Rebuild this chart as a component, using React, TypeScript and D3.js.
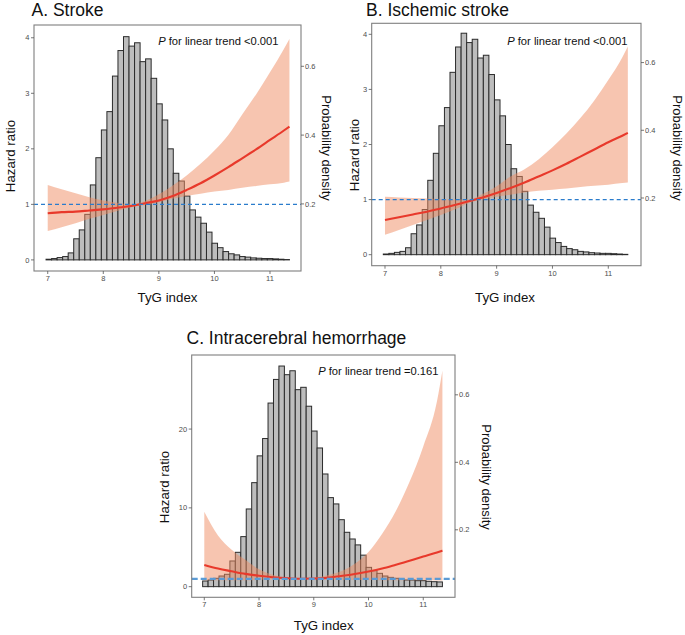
import * as d3 from 'd3';

const W = 685;
const H = 635;
const FONT = '"Liberation Sans", Arial, Helvetica, sans-serif';

// histogram of TyG index, bar heights read in hazard-ratio units of each panel
const BIN_RANGE = [6.97, 11.35];
const histAB = [
  0.012, 0.024, 0.042, 0.06, 0.126, 0.38, 0.54, 0.82, 1.35, 1.84, 2.34, 2.67, 3.31, 3.77, 4.02,
  3.85, 3.91, 3.57, 3.62, 3.27, 2.81, 2.52, 2.0, 1.56, 1.42, 1.15, 0.9, 0.77, 0.66, 0.5, 0.3,
  0.22, 0.15, 0.11, 0.09, 0.06, 0.05, 0.036, 0.03, 0.024, 0.024, 0.018, 0.012, 0.006,
];
const histC = [
  0.72, 0.85, 1.06, 1.35, 1.57, 3.26, 4.36, 6.35, 9.86, 13.2, 16.6, 18.8, 23.3, 26.3, 28.0,
  26.9, 27.4, 25.0, 25.3, 22.9, 19.75, 17.6, 14.3, 11.3, 10.5, 8.5, 6.9, 6.05, 5.3, 4.0, 2.45,
  2.03, 1.69, 1.35, 1.18, 1.06, 0.97, 0.85, 0.85, 0.76, 0.76, 0.68, 0.63, 0.6,
];

// restricted cubic spline: TyG knots, HR and 95% CI
const tygKnots = [7.0, 7.25, 7.5, 7.75, 8.0, 8.25, 8.5, 8.75, 9.0, 9.25, 9.5, 9.75, 10.0, 10.25, 10.5, 10.75, 11.0, 11.25, 11.35];

const hrA = [0.84, 0.86, 0.87, 0.89, 0.91, 0.94, 0.97, 1.02, 1.07, 1.15, 1.26, 1.38, 1.52, 1.67, 1.83, 1.99, 2.16, 2.33, 2.4];
const hiA = [1.35, 1.27, 1.2, 1.13, 1.07, 1.03, 1.0, 1.06, 1.18, 1.34, 1.52, 1.73, 1.97, 2.25, 2.62, 2.98, 3.38, 3.8, 3.98];
const loA = [0.52, 0.59, 0.66, 0.74, 0.81, 0.88, 0.95, 0.99, 1.04, 1.1, 1.15, 1.19, 1.23, 1.26, 1.3, 1.33, 1.36, 1.39, 1.41];

const hrB = [0.63, 0.68, 0.73, 0.78, 0.84, 0.9, 0.97, 1.04, 1.12, 1.21, 1.31, 1.42, 1.53, 1.65, 1.78, 1.91, 2.04, 2.16, 2.21];
const hiB = [1.05, 1.04, 1.03, 1.02, 1.01, 1.0, 1.0, 1.1, 1.24, 1.42, 1.55, 1.73, 1.95, 2.2, 2.48, 2.8, 3.17, 3.58, 3.78];
const loB = [0.36, 0.45, 0.54, 0.63, 0.72, 0.82, 0.94, 1.0, 1.05, 1.09, 1.13, 1.16, 1.18, 1.2, 1.23, 1.25, 1.27, 1.3, 1.31];

const hrC = [2.75, 2.3, 1.95, 1.62, 1.38, 1.2, 1.08, 1.01, 1.03, 1.12, 1.36, 1.61, 1.92, 2.3, 2.78, 3.28, 3.82, 4.35, 4.58];
const hiC = [9.5, 6.5, 4.7, 3.4, 2.2, 1.5, 1.15, 1.03, 1.12, 1.45, 1.95, 2.9, 4.4, 6.7, 9.6, 13.3, 17.8, 23.5, 27.4];
const loC = [0.8, 0.81, 0.81, 0.82, 0.86, 0.93, 0.98, 0.99, 0.96, 0.92, 0.89, 0.86, 0.84, 0.82, 0.81, 0.8, 0.8, 0.79, 0.78];

const xTicks = [7, 8, 9, 10, 11];
const densityTicks = [0.2, 0.4, 0.6];
const hrTicksAB = [0, 1, 2, 3, 4];
const hrTicksC = [0, 10, 20];

const titles = ['A. Stroke', 'B. Ischemic stroke', 'C. Intracerebral hemorrhage'];
const trendText = ['<0.001', '<0.001', '=0.161'];

const PANELS = [
  {
    title: titles[0], trend: trendText[0], hist: histAB, hr: hrA, hi: hiA, lo: loA, hrTicks: hrTicksAB,
    box: { left: 34, top: 25, right: 301, bottom: 271 },
    xDomain: [6.753, 11.558], hrDomain: [-0.2, 4.23], dDomain: [0.005, 0.72],
    titlePos: [31.5, 16], trendPos: [278.5, 44.5],
    hrLabel: [10, 156], dLabel: [326.5, 148], xLabel: [167.5, 301.5],
    dash: { color: '#2a7ccc', width: 1.3, pattern: '4 3' },
  },
  {
    title: titles[1], trend: trendText[1], hist: histAB, hr: hrB, hi: hiB, lo: loB, hrTicks: hrTicksAB,
    box: { left: 371.7, top: 23.3, right: 641, bottom: 265.7 },
    xDomain: [6.762, 11.586], hrDomain: [-0.2, 4.2], dDomain: [0, 0.716],
    titlePos: [366, 16], trendPos: [627.5, 44.5],
    hrLabel: [354, 155], dLabel: [677.5, 148], xLabel: [505, 301.5],
    dash: { color: '#2a7ccc', width: 1.3, pattern: '4 3' },
  },
  {
    title: titles[2], trend: trendText[2], hist: histC, hr: hrC, hi: hiC, lo: loC, hrTicks: hrTicksC,
    box: { left: 191.7, top: 355, right: 455, bottom: 597.3 },
    xDomain: [6.77, 11.58], hrDomain: [-1.35, 29.4], dDomain: [0, 0.718],
    titlePos: [186.5, 344], trendPos: [438.5, 375],
    hrLabel: [164, 487], dLabel: [486.5, 477], xLabel: [323.7, 629.5],
    dash: { color: '#5b9bd5', width: 2.2, pattern: '6 3' },
  },
];

const Panel = ({ p }) => {
  const { box } = p;
  const x = d3.scaleLinear().domain(p.xDomain).range([box.left, box.right]);
  const y = d3.scaleLinear().domain(p.hrDomain).range([box.bottom, box.top]);
  const yd = d3.scaleLinear().domain(p.dDomain).range([box.bottom, box.top]);
  const bin = d3.scaleLinear().domain([0, p.hist.length]).range(BIN_RANGE);

  const pts = tygKnots.map((t, i) => ({ t, hr: p.hr[i], lo: p.lo[i], hi: p.hi[i] }));
  const line = d3.line().x(d => x(d.t)).y(d => y(d.hr)).curve(d3.curveMonotoneX);
  const area = d3.area().x(d => x(d.t)).y0(d => y(d.lo)).y1(d => y(d.hi)).curve(d3.curveMonotoneX);

  const tickColor = '#555';
  const labelColor = '#4d4d4d';

  return (
    <g>
      <rect x={box.left} y={box.top} width={box.right - box.left} height={box.bottom - box.top} fill="#fff" />
      {p.hist.map((v, i) => (
        <rect
          key={`bar-${i}`}
          x={x(bin(i))}
          y={y(v)}
          width={x(bin(i + 1)) - x(bin(i))}
          height={y(0) - y(v)}
          fill="#bdbdbd"
          stroke="#2b2b2b"
          strokeWidth={1}
        />
      ))}
      <path d={area(pts)} fill="#ef8b61" fillOpacity={0.5} />
      <path d={line(pts)} fill="none" stroke="#e8392b" strokeWidth={2.1} />
      <line
        x1={box.left}
        x2={box.right}
        y1={y(1)}
        y2={y(1)}
        stroke={p.dash.color}
        strokeWidth={p.dash.width}
        strokeDasharray={p.dash.pattern}
      />
      <rect
        x={box.left}
        y={box.top}
        width={box.right - box.left}
        height={box.bottom - box.top}
        fill="none"
        stroke="#7f7f7f"
        strokeWidth={1.1}
      />

      {p.hrTicks.map(t => (
        <g key={`hr-${t}`}>
          <line x1={box.left - 3} x2={box.left} y1={y(t)} y2={y(t)} stroke={tickColor} strokeWidth={0.8} />
          <text x={box.left - 4.5} y={y(t)} dy="0.35em" textAnchor="end" fontSize={7.5} fill={labelColor}>
            {t}
          </text>
        </g>
      ))}
      {densityTicks.map(t => (
        <g key={`d-${t}`}>
          <line x1={box.right} x2={box.right + 3} y1={yd(t)} y2={yd(t)} stroke={tickColor} strokeWidth={0.8} />
          <text x={box.right + 4} y={yd(t)} dy="0.35em" textAnchor="start" fontSize={7.5} fill={labelColor}>
            {t.toFixed(1)}
          </text>
        </g>
      ))}
      {xTicks.map(t => (
        <g key={`x-${t}`}>
          <line x1={x(t)} x2={x(t)} y1={box.bottom} y2={box.bottom + 3} stroke={tickColor} strokeWidth={0.8} />
          <text x={x(t)} y={box.bottom + 10} textAnchor="middle" fontSize={7.5} fill={labelColor}>
            {t}
          </text>
        </g>
      ))}

      <text x={p.titlePos[0]} y={p.titlePos[1]} fontSize={17.5} fill="#111">
        {p.title}
      </text>
      <text x={p.trendPos[0]} y={p.trendPos[1]} textAnchor="end" fontSize={11.2} fill="#111">
        <tspan fontStyle="italic">P</tspan>
        {` for linear trend ${p.trend}`}
      </text>
      <text
        transform={`translate(${p.hrLabel[0]},${p.hrLabel[1]}) rotate(-90)`}
        textAnchor="middle"
        dominantBaseline="central"
        fontSize={13.3}
        fill="#111"
      >
        Hazard ratio
      </text>
      <text
        transform={`translate(${p.dLabel[0]},${p.dLabel[1]}) rotate(90)`}
        textAnchor="middle"
        dominantBaseline="central"
        fontSize={13}
        fill="#111"
      >
        Probability density
      </text>
      <text x={p.xLabel[0]} y={p.xLabel[1]} textAnchor="middle" fontSize={13.3} fill="#111">
        TyG index
      </text>
    </g>
  );
};

export default function App() {
  return (
    <svg
      width={W}
      height={H}
      style={{ position: 'absolute', left: 0, top: 0, background: '#fff' }}
      fontFamily={FONT}
    >
      <rect width={W} height={H} fill="#fff" />
      {PANELS.map(p => (
        <Panel key={p.title} p={p} />
      ))}
    </svg>
  );
}
